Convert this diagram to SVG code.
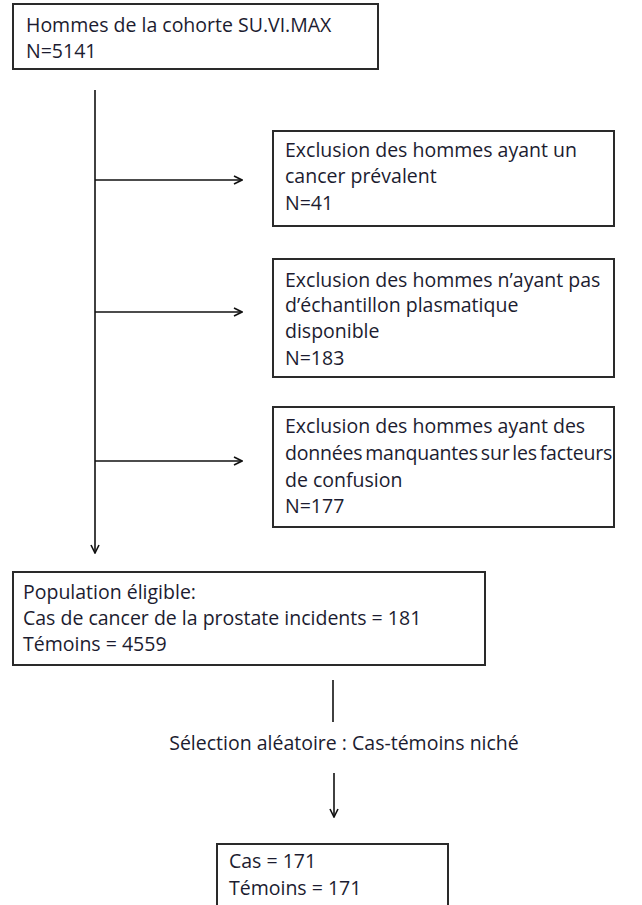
<svg xmlns="http://www.w3.org/2000/svg" width="642" height="905" viewBox="0 0 642 905">
  <defs>
    <marker id="arr" viewBox="0 0 10 10" refX="9" refY="5" markerWidth="10" markerHeight="10" markerUnits="userSpaceOnUse" orient="auto">
      <path d="M1,1 L9,5 L1,9" fill="none" stroke="#111" stroke-width="1.6"/>
    </marker>
    <style>
      .box { fill: #fff; stroke: #2a2a2a; stroke-width: 2; }
      .t { font-family: "Open Sans", "Liberation Sans", sans-serif; font-size: 19.5px; fill: #1c1c30; }
      .tight { word-spacing: -2px; letter-spacing: -0.2px; }
      .c { fill: none; stroke: #111; stroke-width: 1.6; }
    </style>
  </defs>
  <rect width="642" height="905" fill="#fff"/>

  <g id="connectors">
    <line class="c" x1="95" y1="90" x2="95" y2="553" marker-end="url(#arr)"/>
    <line class="c" x1="95" y1="180" x2="242" y2="180" marker-end="url(#arr)"/>
    <line class="c" x1="95" y1="312" x2="242" y2="312" marker-end="url(#arr)"/>
    <line class="c" x1="95" y1="461" x2="242" y2="461" marker-end="url(#arr)"/>
    <line class="c" x1="333" y1="680" x2="333" y2="722"/>
    <line class="c" x1="334" y1="773" x2="334" y2="817" marker-end="url(#arr)"/>
  </g>

  <g id="cohort">
    <rect class="box" x="13" y="4" width="365" height="65"/>
    <text class="t" x="26" y="32">Hommes de la cohorte SU.VI.MAX</text>
    <text class="t" x="26" y="58">N=5141</text>
  </g>

  <g id="excl1">
    <rect class="box" x="273" y="131" width="341" height="95"/>
    <text class="t" x="285" y="157">Exclusion des hommes ayant un</text>
    <text class="t" x="285" y="183">cancer prévalent</text>
    <text class="t" x="285" y="210">N=41</text>
  </g>

  <g id="excl2">
    <rect class="box" x="273" y="259" width="341" height="118"/>
    <text class="t" x="285" y="287">Exclusion des hommes n’ayant pas</text>
    <text class="t" x="285" y="312">d’échantillon plasmatique</text>
    <text class="t" x="285" y="338">disponible</text>
    <text class="t" x="285" y="365">N=183</text>
  </g>

  <g id="excl3">
    <rect class="box" x="273" y="407" width="341" height="120"/>
    <text class="t" x="285" y="433">Exclusion des hommes ayant des</text>
    <text class="t tight" x="285" y="460">données manquantes sur les facteurs</text>
    <text class="t" x="285" y="487">de confusion</text>
    <text class="t" x="285" y="513">N=177</text>
  </g>

  <g id="eligible">
    <rect class="box" x="13" y="572" width="472" height="93"/>
    <text class="t" x="23" y="599">Population éligible:</text>
    <text class="t" x="23" y="625">Cas de cancer de la prostate incidents = 181</text>
    <text class="t" x="23" y="651">Témoins = 4559</text>
  </g>

  <g id="selection">
    <text class="t" x="344" y="750" text-anchor="middle">Sélection aléatoire : Cas-témoins niché</text>
  </g>

  <g id="nested">
    <rect class="box" x="217" y="844" width="231" height="70"/>
    <text class="t" x="229" y="868">Cas = 171</text>
    <text class="t" x="229" y="895">Témoins = 171</text>
  </g>
</svg>
